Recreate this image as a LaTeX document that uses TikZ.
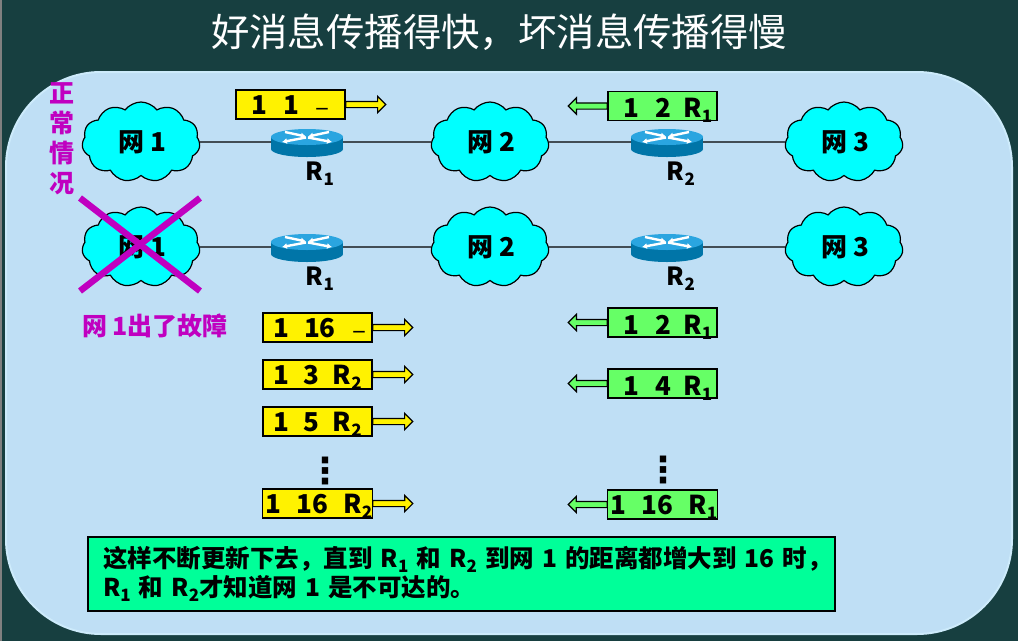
\documentclass[tikz,border=0pt]{standalone}
\usepackage{fontspec}
\setmainfont{Noto Sans CJK SC}
\newfontfamily\symfont{DejaVu Sans}
\usetikzlibrary{positioning,shapes.symbols,shapes.arrows,arrows.meta}
\definecolor{deskbg}{HTML}{173F40}
\definecolor{panelbg}{HTML}{BFDFF5}
\definecolor{paneledge}{HTML}{CDEBFB}
\definecolor{netcyan}{HTML}{00FFFF}
\definecolor{boxgreen}{HTML}{66FF66}
\definecolor{notegreen}{HTML}{00FF99}
\definecolor{warnpurple}{HTML}{C000C0}
\definecolor{routertop}{HTML}{2AA5E0}
\definecolor{routerside}{HTML}{0075A8}
\newcommand{\rn}[1]{R\raisebox{-5pt}{\fontsize{17}{17}\selectfont #1}}
\newcommand{\nodash}{\raisebox{-2pt}{\mdseries –}}
\tikzset{
netcloud/.style={cloud,cloud puffs=11,cloud puff arc=105,aspect=1.5,draw=black,line width=1.2pt,fill=netcyan,minimum width=118pt,minimum height=80pt,inner sep=0pt,font=\fontsize{26}{26}\selectfont\bfseries},
tabbox/.style={draw=black,line width=1.2pt,minimum width=109pt,minimum height=29pt,inner sep=0pt,text height=19pt,text depth=0pt,font=\fontsize{26}{26}\selectfont\bfseries},
yellowbox/.style={tabbox,fill=yellow},
greenbox/.style={tabbox,fill=boxgreen},
lowtext/.style={text height=23pt},
yellowarrow/.style={single arrow,draw=black,line width=1.2pt,fill=yellow,minimum height=40pt,minimum width=16pt,inner sep=2.5pt,single arrow head extend=5pt,right=-0.5pt of #1},
greenarrow/.style={single arrow,draw=black,line width=1.2pt,fill=boxgreen,minimum height=39pt,minimum width=16pt,inner sep=2.5pt,single arrow head extend=5pt,shape border rotate=180,left=-0.5pt of #1},
netline/.style={draw=black,line width=1.2pt},
routername/.style={font=\fontsize{25}{25}\selectfont\bfseries,inner sep=0pt},
purpletext/.style={text=warnpurple,font=\fontsize{25}{30}\selectfont\bfseries,inner sep=0pt,align=center},
crossline/.style={draw=warnpurple,line width=6.5pt},
moredots/.style={inner sep=0pt,font=\symfont\bfseries\fontsize{36}{36}\selectfont},
router/.pic={
\fill[routerside] (0,7) ellipse[x radius=36,y radius=8];
\fill[routerside] (-36,-5) rectangle (36,7);
\fill[routertop] (0,-5) ellipse[x radius=36,y radius=8];
\draw[white,line width=2.4pt,-{Latex[length=5pt,width=6pt]}] (-22,-10) -- (-1,-5.5);
\draw[white,line width=2.4pt,-{Latex[length=5pt,width=6pt]}] (22,-10) -- (1,-5.5);
\draw[white,line width=2.4pt,-{Latex[length=5pt,width=6pt]}] (-1,-4.5) -- (-25,0);
\draw[white,line width=2.4pt,-{Latex[length=5pt,width=6pt]}] (1,-4.5) -- (25,0);
\node[minimum width=72pt,minimum height=10pt,inner sep=0pt,outer sep=0pt] (-box) at (0,0) {};
}
}
\begin{document}
\begin{tikzpicture}[x=1pt,y=-1pt]
\useasboundingbox (0,0) rectangle (1018,641);
\fill[deskbg] (0,0) rectangle (1018,641);
\fill[gray] (0,0) rectangle (1.5,641);
\fill[panelbg,draw=paneledge,line width=2pt,rounded corners=95pt] (6,72) rectangle (1012,634);
\node[text=white,font=\fontsize{38.4}{38}\selectfont] (title) at (499,32) {好消息传播得快，坏消息传播得慢};
% normal case
\node[netcloud] (neta) at (141,142) {\hspace{3pt}网 1};
\node[netcloud] (netb) at (490,142) {\hspace{3pt}网 2};
\node[netcloud] (netc) at (844,142) {\hspace{3pt}网 3};
\pic (ra) at (307,142) {router};
\pic (rb) at (667,142) {router};
\draw[netline] (neta) -- (ra-box);
\draw[netline] (ra-box) -- (netb);
\draw[netline] (netb) -- (rb-box);
\draw[netline] (rb-box) -- (netc);
\node[routername] (ranamea) at (320,174) {\rn{1}};
\node[routername] (rbnamea) at (681,174) {\rn{2}};
\node[yellowbox] (ya) at (290.5,104.5) {1\hspace{16pt}1\hspace{16pt}\nodash\hspace{6pt}};
\node[yellowarrow=ya] (yaarrow) {};
\node[greenbox,lowtext] (ga) at (662.5,106) {\hspace{11pt}1\hspace{16pt}2\hspace{12pt}\rn{1}};
\node[greenarrow=ga] (gaarrow) {};
\node[purpletext] (normal) at (62,139) {正\\常\\情\\况};
% net 1 fails
\node[netcloud] (netd) at (141,247) {\hspace{3pt}网 1};
\node[netcloud] (nete) at (490,247) {\hspace{3pt}网 2};
\node[netcloud] (netf) at (844,247) {\hspace{3pt}网 3};
\pic (rc) at (307,247) {router};
\pic (rd) at (667,247) {router};
\draw[netline] (netd) -- (rc-box);
\draw[netline] (rc-box) -- (nete);
\draw[netline] (nete) -- (rd-box);
\draw[netline] (rd-box) -- (netf);
\node[routername] (rcname) at (320,279) {\rn{1}};
\node[routername] (rdname) at (681,279) {\rn{2}};
\coordinate (crossa) at (80,198);
\coordinate (crossb) at (200,291);
\coordinate (crossc) at (80,291);
\coordinate (crossd) at (200,198);
\draw[crossline] (crossa) -- (crossb);
\draw[crossline] (crossc) -- (crossd);
\node[purpletext,font=\fontsize{25}{25}\selectfont\bfseries] (fault) at (155,326) {网 1出了故障};
% updates from R1
\node[yellowbox] (yb) at (317.5,327.5) {\hspace{5pt}1\hspace{15pt}16\hspace{17pt}\nodash\hspace{6pt}};
\node[yellowarrow=yb] (ybarrow) {};
\node[yellowbox] (yc) at (317.5,374.5) {1\hspace{14pt}3\hspace{14pt}\rn{2}};
\node[yellowarrow=yc] (ycarrow) {};
\node[yellowbox] (yd) at (317.5,421.5) {1\hspace{14pt}5\hspace{14pt}\rn{2}};
\node[yellowarrow=yd] (ydarrow) {};
\node[moredots] (ydots) at (325,471) {⋮};
\node[yellowbox] (ye) at (317.5,503.5) {\hspace{3pt}1\hspace{15pt}16\hspace{15pt}\rn{2}};
\node[yellowarrow=ye] (yearrow) {};
% updates from R2
\node[greenbox,lowtext] (gb) at (662.5,322.5) {\hspace{11pt}1\hspace{16pt}2\hspace{12pt}\rn{1}};
\node[greenarrow=gb] (gbarrow) {};
\node[greenbox,lowtext] (gc) at (662.5,383.5) {\hspace{11pt}1\hspace{16pt}4\hspace{12pt}\rn{1}};
\node[greenarrow=gc] (gcarrow) {};
\node[moredots] (gdots) at (663,470) {⋮};
\node[greenbox] (gd) at (662.5,504.5) {\hspace{3pt}1\hspace{15pt}16\hspace{15pt}\rn{1}};
\node[greenarrow=gd] (gdarrow) {};
% note
\node[draw=black,line width=1.2pt,fill=notegreen,minimum width=747pt,minimum height=74pt,inner sep=0pt,text width=745pt,align=left,font=\fontsize{24.5}{29}\selectfont\bfseries] (note) at (461.5,574) {\hspace*{14pt}这样不断更新下去，直到 \rn{1} 和 \rn{2} 到网 1 的距离都增大到 16 时\makebox[0pt][l]{，}\\\hspace*{14pt}\rn{1} 和 \rn{2}才知道网 1 是不可达的。};
\end{tikzpicture}
\end{document}
